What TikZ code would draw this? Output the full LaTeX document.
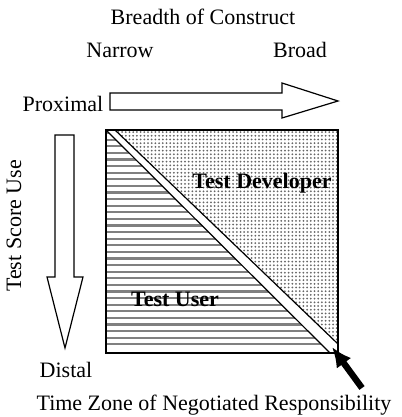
\documentclass[tikz,border=0pt]{standalone}
\usepackage{fontspec}
\setmainfont{Liberation Serif}
\usetikzlibrary{patterns.meta,arrows.meta}
\begin{document}
\begin{tikzpicture}[x=0.5pt,y=-0.5pt,>=latex,thick,
	every node/.style={inner sep=0pt,font=\fontsize{11}{13}\selectfont},
	rolle/.style={font=\fontsize{11}{13}\selectfont\bfseries},
	block/.style={draw,fill=white,line width=0.6pt,line join=miter},
	strich/.style={black!50,line width=1.1pt}]
\useasboundingbox (0,0) rectangle (401,417);
\def\li{106}
\def\re{338}
\def\ob{130}
\def\un{353}
\coordinate (nw) at (\li,\ob);
\coordinate (ne) at (\re,\ob);
\coordinate (se) at (\re,\un);
\coordinate (sw) at (\li,\un);
% Feld oben rechts: Punkte
\fill[pattern={Dots[distance=1.85pt,radius=0.5pt]},pattern color=black!60] (nw) -- (ne) -- (se) -- cycle;
% Feld unten links: Linien
\begin{scope}
	\clip (nw) -- (se) -- (sw) -- cycle;
	\foreach \y in {133,139.6,...,350}{
		\draw[strich] (\li,\y) -- (\re,\y);
	}
\end{scope}
% Band
\coordinate (b1) at (115,\ob);
\coordinate (b2) at (\re,344);
\coordinate (b3) at (330,\un);
\fill[white] (nw) -- (b1) -- (b2) -- (se) -- (b3) -- cycle;
\draw[line width=0.6pt] (b1) -- (b2);
\draw[line width=0.6pt] (nw) -- (b3);
\draw[line width=0.6pt] (nw) rectangle (se);
% Pfeile
\draw[block] (110,93) -- (282,93) -- (282,83) -- (338,101) -- (282,118) -- (282,110) -- (110,110) -- cycle;
\draw[block] (55,135) -- (74,135) -- (74,277) -- (83,277) -- (65,348) -- (47,277) -- (55,277) -- cycle;
\coordinate (fuss) at (362,388);
\coordinate (spitze) at (332,347);
\draw[line width=3.2pt,-{Latex[length=10pt,width=9pt]}] (fuss) -- (spitze);
% Texte
\node (titel) at (203,17) {Breadth of Construct};
\node (eng) at (120,50) {Narrow};
\node (breit) at (300,50) {Broad};
\node (nah) at (63,104) {Proximal};
\node (fern) at (66,370) {Distal};
\node[rotate=90] (nutzung) at (14,226) {Test Score Use};
\node[rolle] (entwickler) at (262,183) {Test Developer};
\node[rolle] (anwender) at (175,299) {Test User};
\node (zone) at (214,405) {Time Zone of Negotiated Responsibility};
\end{tikzpicture}
\end{document}
